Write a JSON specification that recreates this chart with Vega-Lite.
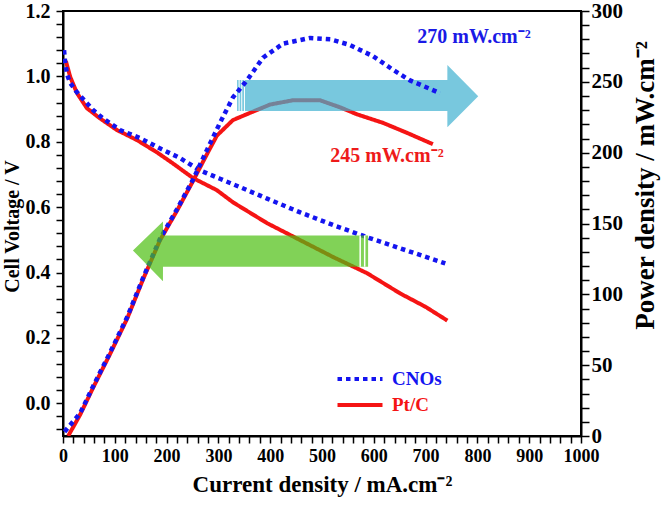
{
  "$schema": "https://vega.github.io/schema/vega-lite/v6.json",
  "autosize": "none",
  "width": 518,
  "height": 425,
  "padding": {"left": 63, "top": 11, "right": 80, "bottom": 73},
  "background": "white",
  "config": {
    "font": "Liberation Serif",
    "view": {"stroke": "black", "strokeWidth": 2},
    "axis": {
      "grid": false,
      "domainColor": "black",
      "domainWidth": 2,
      "tickColor": "black",
      "tickWidth": 1.5,
      "labelColor": "black",
      "labelFont": "Liberation Serif",
      "labelFontWeight": "bold",
      "titleColor": "black",
      "titleFont": "Liberation Serif",
      "titleFontWeight": "bold",
      "labelOverlap": false,
      "labelBound": false,
      "labelFlush": false
    }
  },
  "datasets": {
    "vol": [
      {"s": "CNOs", "j": 2, "v": 1.08},
      {"s": "CNOs", "j": 4, "v": 1.045},
      {"s": "CNOs", "j": 8, "v": 1.005},
      {"s": "CNOs", "j": 14, "v": 0.98},
      {"s": "CNOs", "j": 25, "v": 0.955},
      {"s": "CNOs", "j": 37, "v": 0.934},
      {"s": "CNOs", "j": 58, "v": 0.897},
      {"s": "CNOs", "j": 77, "v": 0.872},
      {"s": "CNOs", "j": 110, "v": 0.836},
      {"s": "CNOs", "j": 149, "v": 0.811},
      {"s": "CNOs", "j": 187, "v": 0.78},
      {"s": "CNOs", "j": 226, "v": 0.75},
      {"s": "CNOs", "j": 264, "v": 0.713},
      {"s": "CNOs", "j": 303, "v": 0.687},
      {"s": "CNOs", "j": 342, "v": 0.661},
      {"s": "CNOs", "j": 375, "v": 0.639},
      {"s": "CNOs", "j": 394, "v": 0.626},
      {"s": "CNOs", "j": 458, "v": 0.584},
      {"s": "CNOs", "j": 522, "v": 0.545},
      {"s": "CNOs", "j": 587, "v": 0.508},
      {"s": "CNOs", "j": 651, "v": 0.474},
      {"s": "CNOs", "j": 738, "v": 0.428},
      {"s": "Pt/C", "j": 2, "v": 1.05},
      {"s": "Pt/C", "j": 6, "v": 1.044},
      {"s": "Pt/C", "j": 14, "v": 0.998},
      {"s": "Pt/C", "j": 27, "v": 0.949},
      {"s": "Pt/C", "j": 46, "v": 0.903},
      {"s": "Pt/C", "j": 71, "v": 0.872},
      {"s": "Pt/C", "j": 104, "v": 0.836},
      {"s": "Pt/C", "j": 143, "v": 0.805},
      {"s": "Pt/C", "j": 181, "v": 0.768},
      {"s": "Pt/C", "j": 212, "v": 0.734},
      {"s": "Pt/C", "j": 251, "v": 0.689},
      {"s": "Pt/C", "j": 297, "v": 0.652},
      {"s": "Pt/C", "j": 328, "v": 0.615},
      {"s": "Pt/C", "j": 394, "v": 0.551},
      {"s": "Pt/C", "j": 458, "v": 0.499},
      {"s": "Pt/C", "j": 522, "v": 0.447},
      {"s": "Pt/C", "j": 587, "v": 0.398},
      {"s": "Pt/C", "j": 651, "v": 0.336},
      {"s": "Pt/C", "j": 700, "v": 0.295},
      {"s": "Pt/C", "j": 742, "v": 0.253}
    ],
    "pow": [
      {"s": "CNOs", "j": 3, "p": 3},
      {"s": "CNOs", "j": 33, "p": 16},
      {"s": "CNOs", "j": 58, "p": 35},
      {"s": "CNOs", "j": 91, "p": 59},
      {"s": "CNOs", "j": 124, "p": 84},
      {"s": "CNOs", "j": 155, "p": 112},
      {"s": "CNOs", "j": 187, "p": 139},
      {"s": "CNOs", "j": 220, "p": 160},
      {"s": "CNOs", "j": 251, "p": 181},
      {"s": "CNOs", "j": 278, "p": 202},
      {"s": "CNOs", "j": 303, "p": 221},
      {"s": "CNOs", "j": 328, "p": 239},
      {"s": "CNOs", "j": 355, "p": 251},
      {"s": "CNOs", "j": 386, "p": 267},
      {"s": "CNOs", "j": 425, "p": 277},
      {"s": "CNOs", "j": 477, "p": 281},
      {"s": "CNOs", "j": 516, "p": 280},
      {"s": "CNOs", "j": 554, "p": 276},
      {"s": "CNOs", "j": 599, "p": 268},
      {"s": "CNOs", "j": 637, "p": 258.5},
      {"s": "CNOs", "j": 670, "p": 251},
      {"s": "CNOs", "j": 728, "p": 242},
      {"s": "Pt/C", "j": 10, "p": 0},
      {"s": "Pt/C", "j": 33, "p": 15},
      {"s": "Pt/C", "j": 58, "p": 34},
      {"s": "Pt/C", "j": 91, "p": 58},
      {"s": "Pt/C", "j": 124, "p": 83},
      {"s": "Pt/C", "j": 155, "p": 111},
      {"s": "Pt/C", "j": 187, "p": 138},
      {"s": "Pt/C", "j": 220, "p": 159},
      {"s": "Pt/C", "j": 251, "p": 180},
      {"s": "Pt/C", "j": 278, "p": 199},
      {"s": "Pt/C", "j": 297, "p": 212},
      {"s": "Pt/C", "j": 328, "p": 223},
      {"s": "Pt/C", "j": 367, "p": 229},
      {"s": "Pt/C", "j": 400, "p": 234},
      {"s": "Pt/C", "j": 444, "p": 237},
      {"s": "Pt/C", "j": 496, "p": 237},
      {"s": "Pt/C", "j": 535, "p": 232},
      {"s": "Pt/C", "j": 568, "p": 227},
      {"s": "Pt/C", "j": 618, "p": 221},
      {"s": "Pt/C", "j": 664, "p": 214},
      {"s": "Pt/C", "j": 714, "p": 206}
    ],
    "arrows": [
      {"a": "cyan", "j": 336, "top": 251.3, "bot": 229.4},
      {"a": "cyan", "j": 742, "top": 251.3, "bot": 229.4},
      {"a": "cyan", "j": 742.01, "top": 261.8, "bot": 218.0},
      {"a": "cyan", "j": 801.6, "top": 239.9, "bot": 239.9},
      {"a": "green", "j": 135, "top": 131.0, "bot": 131.0},
      {"a": "green", "j": 192.99, "top": 151.5, "bot": 109.2},
      {"a": "green", "j": 193, "top": 141.6, "bot": 119.5},
      {"a": "green", "j": 589, "top": 141.6, "bot": 119.5}
    ],
    "stripes": [
      {"a": "cyan", "j": 340, "top": 251.3, "bot": 229.4},
      {"a": "cyan", "j": 345.1, "top": 251.3, "bot": 229.4},
      {"a": "cyan", "j": 350.3, "top": 251.3, "bot": 229.4},
      {"a": "green", "j": 573.7, "top": 141.6, "bot": 119.5},
      {"a": "green", "j": 582.4, "top": 141.6, "bot": 119.5}
    ],
    "notes": [
      {"s": "CNOs", "j": 684, "p": 282, "t": "270 mW.cm⁻²"},
      {"s": "Pt/C", "j": 516, "p": 198, "t": "245 mW.cm⁻²"}
    ]
  },
  "layer": [
    {
      "data": {"name": "vol"},
      "layer": [
        {
          "transform": [{"filter": "datum.s === 'Pt/C'"}],
          "mark": {"type": "line", "strokeWidth": 4, "strokeCap": "butt", "clip": true},
          "encoding": {
            "x": {
              "field": "j", "type": "quantitative",
              "scale": {"domain": [0, 1000], "nice": false},
              "axis": {
                "title": "Current density / mA.cm⁻²",
                "titleFontSize": 23,
                "titlePadding": 8,
                "values": [0,20,40,60,80,100,120,140,160,180,200,220,240,260,280,300,320,340,360,380,400,420,440,460,480,500,520,540,560,580,600,620,640,660,680,700,720,740,760,780,800,820,840,860,880,900,920,940,960,980,1000],
                "tickCount": 500,
                "labelExpr": "datum.value % 100 === 0 ? format(datum.value, 'd') : ''",
                "labelOverlap": false,
                "ticks": true,
                "tickSize": 7,
                "labelFontSize": 18,
                "labelPadding": 4,
                "encode": {"ticks": {"update": {"y2": {"signal": "datum.value % 100 === 0 ? 7 : 4"}}}}
              }
            },
            "y": {
              "field": "v", "type": "quantitative",
              "scale": {"domain": [-0.1, 1.2], "nice": false, "zero": false},
              "axis": {
                "orient": "left",
                "title": "Cell Voltage / V",
                "titleFontSize": 20,
                "titleAngle": -90,
                "titleX": -51,
                "titleY": 215,
                "titleAlign": "center",
                "titleBaseline": "middle",
                "values": [-0.08,-0.04,0,0.04,0.08,0.12,0.16,0.2,0.24,0.28,0.32,0.36,0.4,0.44,0.48,0.52,0.56,0.6,0.64,0.68,0.72,0.76,0.8,0.84,0.88,0.92,0.96,1,1.04,1.08,1.12,1.16,1.2],
                "tickCount": 500,
                "labelExpr": "abs(datum.value*5 - round(datum.value*5)) < 0.001 ? format(datum.value, '.1f') : ''",
                "labelOverlap": false,
                "ticks": true,
                "tickSize": 7,
                "labelFontSize": 20,
                "labelPadding": 6,
                "encode": {"ticks": {"update": {"x2": {"signal": "abs(datum.value*5 - round(datum.value*5)) < 0.001 ? -7 : -3.5"}}}}
              }
            },
            "color": {
              "field": "s", "type": "nominal",
              "scale": {"domain": ["CNOs", "Pt/C"], "range": ["#1414f0", "#f51414"]},
              "legend": {
                "orient": "none",
                "legendX": 286,
                "legendY": 357,
                "title": null,
                "symbolType": "M-2.5,0H2.5",
                "symbolSize": 324,
                "symbolStrokeWidth": 4,
                "labelFontSize": 19,
                "labelFontWeight": "bold",
                "labelFont": "Liberation Serif",
                "labelOffset": 21,
                "rowPadding": 5,
                "padding": 0,
                "encode": {"labels": {"update": {"fill": {"signal": "datum.value === 'CNOs' ? '#1414f0' : '#f51414'"}}}}
              }
            },
            "strokeDash": {
              "field": "s", "type": "nominal",
              "scale": {"domain": ["CNOs", "Pt/C"], "range": [[4.5, 4], [1, 0]]}
            }
          }
        },
        {
          "transform": [{"filter": "datum.s === 'CNOs'"}],
          "mark": {"type": "line", "strokeWidth": 4.5, "strokeCap": "butt", "clip": true},
          "encoding": {
            "x": {"field": "j", "type": "quantitative"},
            "y": {"field": "v", "type": "quantitative"},
            "color": {"field": "s", "type": "nominal"},
            "strokeDash": {"field": "s", "type": "nominal"}
          }
        }
      ]
    },
    {
      "layer": [
        {
          "data": {"name": "pow"},
          "transform": [{"filter": "datum.s === 'Pt/C'"}],
          "mark": {"type": "line", "strokeWidth": 4, "strokeCap": "butt", "clip": true},
          "encoding": {
            "x": {"field": "j", "type": "quantitative"},
            "y": {
              "field": "p", "type": "quantitative",
              "scale": {"domain": [0, 300], "nice": false},
              "axis": {
                "orient": "right",
                "title": "Power density / mW.cm⁻²",
                "titleFontSize": 27,
                "titleAngle": -90,
                "titleX": 64,
                "titleY": 174,
                "titleAlign": "center",
                "titleBaseline": "middle",
                "values": [0,10,20,30,40,50,60,70,80,90,100,110,120,130,140,150,160,170,180,190,200,210,220,230,240,250,260,270,280,290,300],
                "tickCount": 500,
                "labelExpr": "datum.value % 50 === 0 ? format(datum.value, 'd') : ''",
                "labelOverlap": false,
                "ticks": true,
                "tickSize": 8,
                "labelFontSize": 21,
                "labelPadding": 2,
                "encode": {"ticks": {"update": {"x2": {"signal": "datum.value % 50 === 0 ? 8 : 4"}}}}
              }
            },
            "color": {"field": "s", "type": "nominal"},
            "strokeDash": {"field": "s", "type": "nominal"}
          }
        },
        {
          "data": {"name": "arrows"},
          "transform": [{"filter": "datum.a === 'cyan'"}],
          "mark": {"type": "area", "color": "#3eb0d0", "opacity": 0.7, "interpolate": "linear"},
          "encoding": {
            "x": {"field": "j", "type": "quantitative"},
            "y": {"field": "top", "type": "quantitative", "stack": null},
            "y2": {"field": "bot"}
          }
        },
        {
          "data": {"name": "stripes"},
          "transform": [{"filter": "datum.a === 'cyan'"}],
          "mark": {"type": "rule", "color": "white", "strokeWidth": 1},
          "encoding": {
            "x": {"field": "j", "type": "quantitative"},
            "y": {"field": "top", "type": "quantitative"},
            "y2": {"field": "bot"}
          }
        },
        {
          "data": {"name": "pow"},
          "transform": [{"filter": "datum.s === 'CNOs'"}],
          "mark": {"type": "line", "strokeWidth": 4.5, "strokeCap": "butt", "clip": true},
          "encoding": {
            "x": {"field": "j", "type": "quantitative"},
            "y": {"field": "p", "type": "quantitative"},
            "color": {"field": "s", "type": "nominal"},
            "strokeDash": {"field": "s", "type": "nominal"}
          }
        },
        {
          "data": {"name": "arrows"},
          "transform": [{"filter": "datum.a === 'green'"}],
          "mark": {"type": "area", "color": "#4cbf10", "opacity": 0.7, "interpolate": "linear"},
          "encoding": {
            "x": {"field": "j", "type": "quantitative"},
            "y": {"field": "top", "type": "quantitative", "stack": null},
            "y2": {"field": "bot"}
          }
        },
        {
          "data": {"name": "stripes"},
          "transform": [{"filter": "datum.a === 'green'"}],
          "mark": {"type": "rule", "color": "white", "strokeWidth": 1.5},
          "encoding": {
            "x": {"field": "j", "type": "quantitative"},
            "y": {"field": "top", "type": "quantitative"},
            "y2": {"field": "bot"}
          }
        },
        {
          "data": {"name": "notes"},
          "transform": [{"filter": "datum.s === 'CNOs'"}],
          "mark": {"type": "text", "align": "left", "baseline": "middle", "font": "Liberation Serif", "fontWeight": "bold", "fontSize": 20, "color": "#1a1ae6"},
          "encoding": {
            "x": {"field": "j", "type": "quantitative"},
            "y": {"field": "p", "type": "quantitative"},
            "text": {"field": "t"}
          }
        },
        {
          "data": {"name": "notes"},
          "transform": [{"filter": "datum.s === 'Pt/C'"}],
          "mark": {"type": "text", "align": "left", "baseline": "middle", "font": "Liberation Serif", "fontWeight": "bold", "fontSize": 20, "color": "#ee1a1a"},
          "encoding": {
            "x": {"field": "j", "type": "quantitative"},
            "y": {"field": "p", "type": "quantitative"},
            "text": {"field": "t"}
          }
        }
      ]
    }
  ],
  "resolve": {"scale": {"y": "independent"}}
}
